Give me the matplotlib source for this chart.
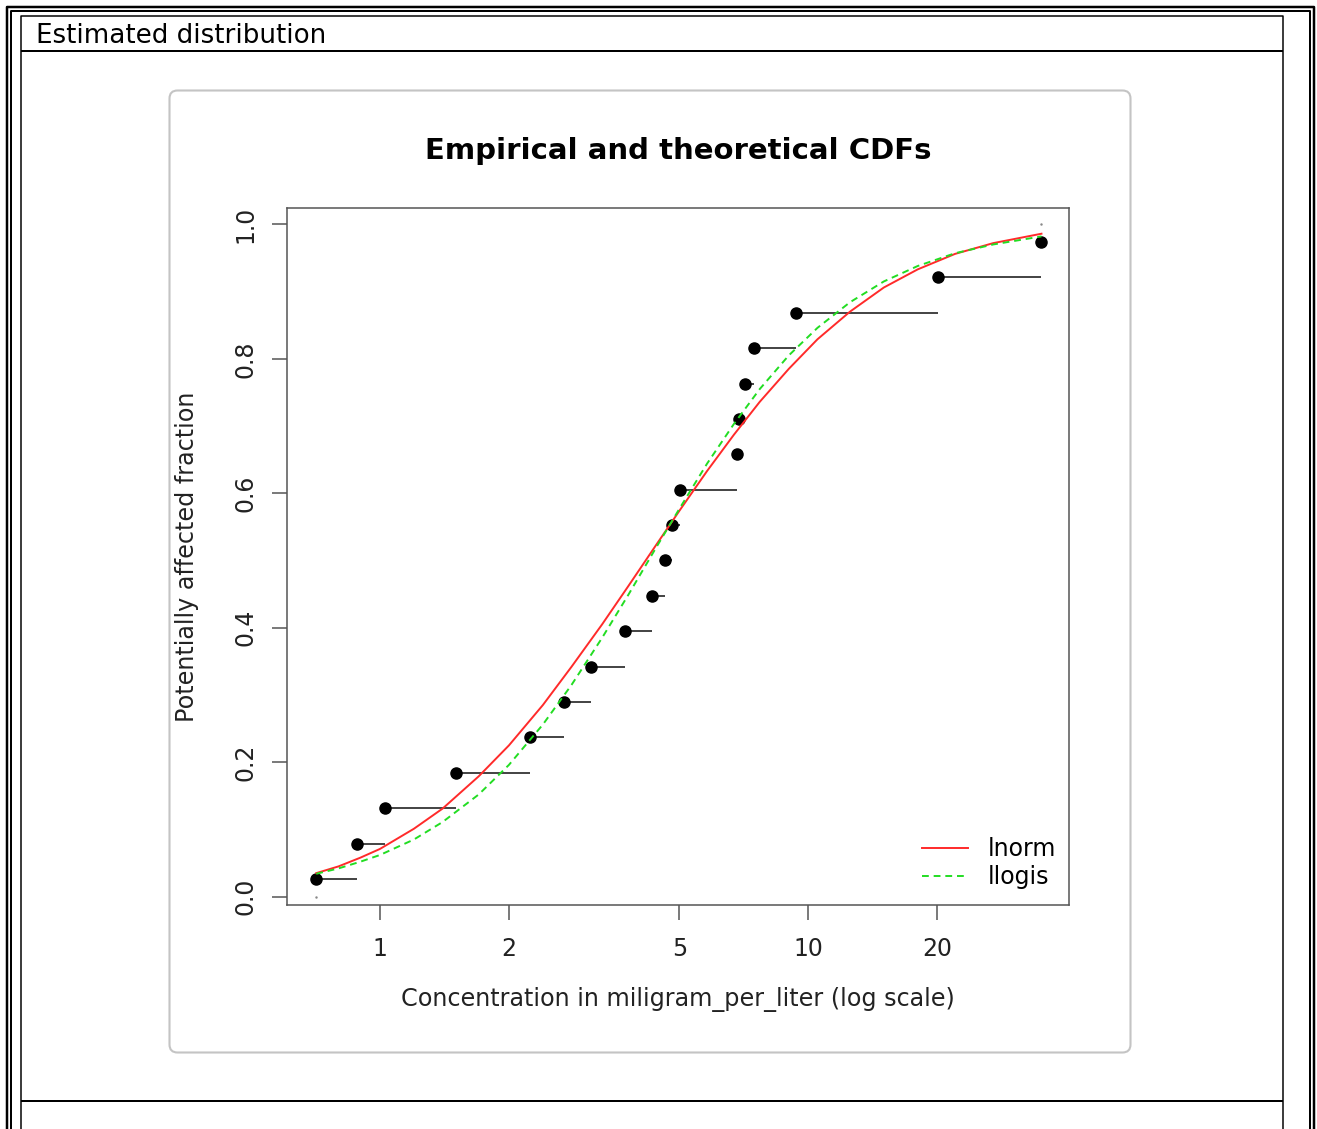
import matplotlib
matplotlib.use('Agg')
import matplotlib.pyplot as plt
from matplotlib.patches import FancyBboxPatch
from matplotlib.lines import Line2D
from matplotlib.ticker import NullLocator

W, H = 1317, 1129

# empirical data (concentration, plotting position)
conc = [0.709, 0.884, 1.030, 1.502, 2.243, 2.693, 3.103, 3.737, 4.326, 4.615,
        4.813, 5.015, 6.800, 6.887, 7.105, 7.477, 9.370, 20.09, 34.91]
frac = [0.026, 0.079, 0.132, 0.184, 0.237, 0.289, 0.342, 0.395, 0.447, 0.500,
        0.553, 0.605, 0.658, 0.711, 0.763, 0.816, 0.868, 0.921, 0.974]
ecdf_ends = [0.0, 1.0]

# fitted curves
curve_x = [0.71, 0.8, 0.9, 1.0, 1.2, 1.4, 1.7, 2.0, 2.4, 2.8, 3.3, 3.8, 4.4,
           5.0, 5.8, 6.7, 7.7, 9.0, 10.5, 12.5, 15, 18, 22, 27, 35]
lnorm_cdf = [0.035, 0.045, 0.058, 0.071, 0.101, 0.131, 0.179, 0.225, 0.285,
             0.342, 0.405, 0.462, 0.522, 0.574, 0.633, 0.687, 0.736, 0.785,
             0.829, 0.870, 0.906, 0.933, 0.956, 0.972, 0.986]
llogis_cdf = [0.034, 0.042, 0.052, 0.062, 0.085, 0.111, 0.152, 0.196, 0.256,
              0.315, 0.385, 0.449, 0.518, 0.577, 0.644, 0.703, 0.755, 0.805,
              0.846, 0.884, 0.915, 0.938, 0.957, 0.970, 0.982]

x_ticks = [1, 2, 5, 10, 20]
y_ticks = [0.0, 0.2, 0.4, 0.6, 0.8, 1.0]

fig = plt.figure(figsize=(W / 100, H / 100), dpi=100)

# page background: table frame in pixel coords
bg = fig.add_axes([0, 0, 1, 1])
bg.set_xlim(0, W)
bg.set_ylim(H, 0)
bg.axis('off')


def line(xs, ys, px=2.0, c='black'):
    bg.add_line(Line2D(xs, ys, lw=px * 0.72, color=c, solid_capstyle='butt'))


# outer double border
line([6.5, 6.5, 1313.5, 1313.5], [H, 6.5, 6.5, H], 2.5)
line([10.5, 10.5, 1309.5, 1309.5], [H, 10.5, 10.5, H], 2.0)
# inner cell
line([20.5, 20.5, 1282.5, 1282.5], [H, 15.5, 15.5, H], 1.5)
line([20.5, 1282.5], [50.5, 50.5], 2.0)
line([20.5, 1282.5], [1101, 1101], 2.0)

bg.text(36, 36, 'Estimated distribution', fontsize=18.8, ha='left', va='center')

# rounded image box
bg.add_patch(FancyBboxPatch((169.5, 90.5), 961, 962,
                            boxstyle='round,pad=0,rounding_size=8',
                            fc='white', ec='#c4c4c4', lw=1.5))

bg.text(678, 151, 'Empirical and theoretical CDFs', fontsize=21,
        fontweight='bold', ha='center', va='center')
bg.text(678, 1000, 'Concentration in miligram_per_liter (log scale)',
        fontsize=17.2, ha='center', va='center', color='#222222')
bg.text(187, 557, 'Potentially affected fraction', fontsize=17.2,
        rotation=90, ha='center', va='center', color='#222222')

# the plot itself
ax = fig.add_axes([286.7 / W, 1 - 905 / H, 782.3 / W, 696.7 / H])
ax.set_xscale('log')
ax.set_xlim(0.6057, 40.58)
ax.set_ylim(-0.0124, 1.0238)

ax.hlines(frac[:-1], conc[:-1], conc[1:], color='#222222', lw=1.2)
ax.plot(conc, frac, 'o', color='black', ms=8)
ax.plot([conc[0], conc[-1]], ecdf_ends, '.', color='#888888', ms=1.5)
ax.plot(curve_x, lnorm_cdf, color='#ff2a2a', lw=1.4, label='lnorm')
ax.plot(curve_x, llogis_cdf, color='#22dd22', lw=1.4, dashes=(3.5, 2.5),
        label='llogis')

ax.xaxis.set_minor_locator(NullLocator())
ax.set_xticks(x_ticks)
ax.set_xticklabels([str(t) for t in x_ticks])
ax.set_yticks(y_ticks)
ax.set_yticklabels(['%.1f' % t for t in y_ticks], rotation=90, va='center')
ax.tick_params(length=10.8, width=1.1, color='#555555', labelsize=17,
               labelcolor='#222222')
ax.tick_params(axis='x', pad=12.5)
ax.tick_params(axis='y', pad=10)
for s in ax.spines.values():
    s.set_color('#555555')
    s.set_linewidth(1.1)

ax.legend(loc='lower right', bbox_to_anchor=(0.9834, 0.023), frameon=False,
          fontsize=17, handlelength=1.95, handletextpad=0.85,
          labelspacing=0.15, borderpad=0, borderaxespad=0)

fig.savefig('out.png', dpi=100)
